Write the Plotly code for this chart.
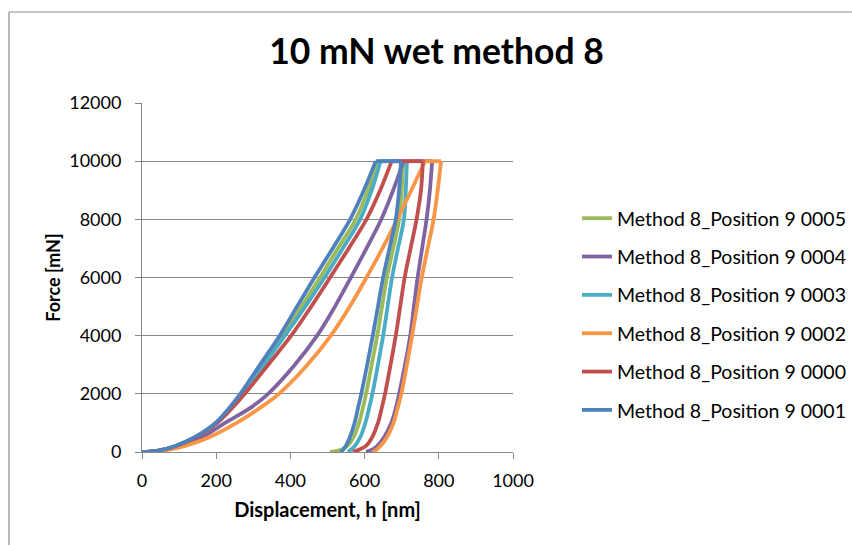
import plotly.graph_objects as go

# ---------------- data ----------------
series_names = [
    "Method 8_Position 9 0005",
    "Method 8_Position 9 0004",
    "Method 8_Position 9 0003",
    "Method 8_Position 9 0002",
    "Method 8_Position 9 0000",
    "Method 8_Position 9 0001",
]
series_colors = ["#9BBB59", "#8064A2", "#4BACC6", "#F79646", "#C0504D", "#4F81BD"]

force_load = [0, 50, 200, 500, 1000, 1500, 2000, 3000, 4000, 5000, 6000, 7000, 8000, 9000, 10000]
force_unload = [10000, 9000, 8000, 7000, 6000, 5000, 4000, 3000, 2000, 1500, 1000, 500, 200, 80, 30, 0]

h_load_0005 = [0, 44, 89, 142, 200, 237, 268, 325, 380, 430, 480, 528, 576, 609, 636]
h_unload_0005 = [704, 700, 693, 677, 660, 647, 634, 619, 604, 595, 585, 570, 553, 537, 522, 507]

h_load_0004 = [0, 50, 102, 160, 224, 290, 340, 412, 472, 520, 563, 605, 645, 677, 705]
h_unload_0004 = [782, 776, 767, 755, 743, 733, 723, 709, 693, 684, 672, 652, 634, 620, 611, 604]

h_load_0003 = [0, 44, 90, 143, 201, 239, 271, 329, 385, 440, 492, 541, 588, 619, 643]
h_unload_0003 = [714, 711, 706, 690, 674, 662, 650, 636, 621, 612, 602, 588, 573, 563, 558, 555]

h_load_0002 = [0, 57, 114, 180, 255, 316, 369, 446, 509, 560, 605, 648, 688, 726, 763]
h_unload_0002 = [806, 797, 786, 770, 754, 741, 728, 714, 699, 689, 678, 660, 642, 632, 627, 621]

h_load_0000 = [0, 44, 90, 144, 202, 242, 277, 340, 402, 456, 507, 557, 605, 642, 673]
h_unload_0000 = [757, 752, 740, 724, 708, 696, 684, 670, 655, 646, 636, 620, 603, 585, 575, 568]

h_load_0001 = [0, 44, 88, 141, 198, 234, 265, 318, 371, 418, 465, 514, 561, 598, 630]
h_unload_0001 = [698, 693, 684, 667, 650, 636, 622, 607, 591, 582, 573, 560, 549, 542, 538, 535]

h_load = [h_load_0005, h_load_0004, h_load_0003, h_load_0002, h_load_0000, h_load_0001]
h_unload = [h_unload_0005, h_unload_0004, h_unload_0003, h_unload_0002, h_unload_0000, h_unload_0001]

x_ticks = [0, 200, 400, 600, 800, 1000]
y_ticks = [0, 2000, 4000, 6000, 8000, 10000, 12000]

# ---------------- figure ----------------
W, H = 852, 545
ML, MR, MT, MB = 142, 339, 103, 93
PW, PH = W - ML - MR, H - MT - MB

FONT = "Lato, 'Open Sans', sans-serif"
GRID = "#878787"

fig = go.Figure()
for i, name in enumerate(series_names):
    hl, hu = h_load[i], h_unload[i]
    # loading curve, hold at peak force, unloading curve (separate smooth segments)
    xs = hl + [None] + [hl[-1], hu[0]] + [None] + hu
    ys = force_load + [None] + [force_load[-1], force_unload[0]] + [None] + force_unload
    fig.add_trace(go.Scatter(
        x=xs, y=ys,
        mode="lines",
        name=name,
        legendgroup=name,
        connectgaps=False,
        line=dict(color=series_colors[i], width=3.8, shape="spline", smoothing=1.0),
    ))

def px_to_paper_x(px):
    return (px - ML) / PW

def px_to_paper_y(py):
    return (H - MB - py) / PH

border = dict(color="#8C8C8C", width=1.2)
fig.add_shape(type="line", xref="paper", yref="paper",
              x0=px_to_paper_x(9), x1=px_to_paper_x(9),
              y0=px_to_paper_y(12), y1=px_to_paper_y(H + 5), line=border)
fig.add_shape(type="line", xref="paper", yref="paper",
              x0=px_to_paper_x(9), x1=px_to_paper_x(W + 5),
              y0=px_to_paper_y(12), y1=px_to_paper_y(12), line=border)

fig.update_layout(
    width=W, height=H,
    margin=dict(l=ML, r=MR, t=MT, b=MB, pad=0),
    paper_bgcolor="white", plot_bgcolor="white",
    font=dict(family=FONT, color="#000000"),
    title=dict(text="<b>10 mN wet method 8</b>", x=436.5 / W, xanchor="center",
               y=1 - 52 / H, yanchor="middle", font=dict(size=35.5, family=FONT)),
    showlegend=True,
    legend=dict(xref="container", yref="container",
                x=577 / W, xanchor="left", y=1 - 314.5 / H, yanchor="middle",
                font=dict(size=19.5, family=FONT), tracegroupgap=10,
                bgcolor="rgba(0,0,0,0)"),
    xaxis=dict(range=[0, 1000], tickvals=x_ticks, ticktext=[str(v) for v in x_ticks],
               showgrid=False, zeroline=False, showline=True, linecolor=GRID, linewidth=1,
               ticks="outside", ticklen=6, tickcolor=GRID, tickfont=dict(size=18),
               ticklabelstandoff=6,
               title=dict(text="<b>Displacement, h [nm]</b>", font=dict(size=20), standoff=13)),
    yaxis=dict(range=[0, 12000], tickvals=y_ticks, ticktext=[str(v) for v in y_ticks],
               showgrid=True, gridcolor=GRID, gridwidth=1, zeroline=False,
               showline=True, linecolor=GRID, linewidth=1,
               ticks="outside", ticklen=6, tickcolor=GRID, tickfont=dict(size=18),
               ticklabelstandoff=10,
               title=dict(text="<b>Force [mN]</b>", font=dict(size=18), standoff=3)),
)

fig.write_html("out.html", config={"displayModeBar": False},
               post_script="document.body.style.margin='0';")
